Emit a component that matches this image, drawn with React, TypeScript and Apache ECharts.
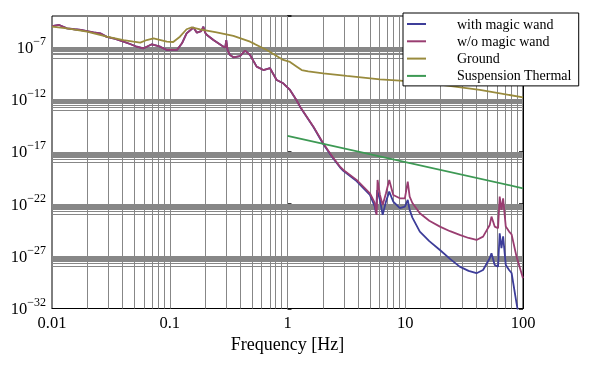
import React, { useEffect, useRef } from "react";
import * as echarts from "echarts";

// Frequencies in Hz, amplitudes as log10 exponents
const woFreq = [0.01, 0.0115, 0.0134, 0.0155, 0.0176, 0.0198, 0.0225, 0.0257, 0.0292, 0.0345, 0.0405, 0.046, 0.0525, 0.0598, 0.0638, 0.0705, 0.083, 0.0944, 0.115, 0.127, 0.139, 0.159, 0.17, 0.185, 0.193, 0.2, 0.207, 0.235, 0.286, 0.296, 0.302, 0.31, 0.325, 0.347, 0.395, 0.436, 0.481, 0.547, 0.624, 0.71, 0.809, 0.92, 1.05, 1.19, 1.28, 1.66, 2.01, 2.4, 2.79, 2.98, 3.86, 5.01, 5.52, 5.71, 5.82, 6.1, 6.43, 6.86, 7.31, 7.91, 9.0, 9.93, 10.5, 10.9, 11.5, 13.3, 16.0, 19.7, 24.0, 29.0, 34.5, 40.3, 45.8, 52.2, 54.0, 57.5, 61.4, 63.4, 65.6, 67.8, 71.4, 76.2, 80.0, 88.1, 100];
const woExp = [-4.96, -4.86, -5.18, -5.27, -5.34, -5.44, -5.56, -5.66, -6.0, -6.2, -6.46, -6.68, -6.94, -7.09, -6.94, -6.71, -6.94, -7.25, -7.25, -6.61, -5.66, -5.1, -5.6, -5.45, -5.02, -5.6, -5.82, -6.3, -6.94, -7.0, -6.3, -7.3, -7.73, -7.95, -7.83, -7.32, -7.73, -8.85, -9.17, -9.0, -10.12, -10.44, -11.08, -12.04, -12.68, -14.59, -16.18, -17.45, -18.42, -18.74, -19.69, -20.97, -21.92, -23.04, -19.69, -21.13, -22.09, -20.97, -19.69, -21.13, -21.45, -21.45, -19.86, -21.29, -21.9, -22.88, -23.6, -24.16, -24.6, -24.96, -25.25, -25.44, -25.12, -24.0, -23.2, -24.16, -24.32, -21.29, -22.56, -21.45, -24.16, -24.64, -24.9, -27.03, -29.1];

const withFreq = [0.01, 0.0115, 0.0134, 0.0155, 0.0176, 0.0198, 0.0225, 0.0257, 0.0292, 0.0345, 0.0405, 0.046, 0.0525, 0.0598, 0.0638, 0.0705, 0.083, 0.0944, 0.115, 0.127, 0.139, 0.159, 0.17, 0.185, 0.193, 0.2, 0.207, 0.235, 0.286, 0.296, 0.302, 0.31, 0.325, 0.347, 0.395, 0.436, 0.481, 0.547, 0.624, 0.71, 0.809, 0.92, 1.05, 1.19, 1.28, 1.66, 2.01, 2.4, 2.79, 2.98, 3.86, 5.01, 5.52, 5.64, 5.78, 6.1, 6.43, 6.86, 7.31, 7.91, 9.0, 9.93, 10.5, 10.9, 11.5, 13.3, 16.0, 19.7, 24.0, 29.0, 34.5, 40.3, 45.8, 52.2, 54.0, 57.5, 61.4, 63.4, 65.6, 67.8, 71.4, 76.2, 80.0, 88.1, 93.0];
const withExp = [-4.96, -4.86, -5.18, -5.27, -5.34, -5.44, -5.56, -5.66, -6.0, -6.2, -6.46, -6.68, -6.94, -7.09, -6.94, -6.71, -6.94, -7.25, -7.25, -6.61, -5.66, -5.1, -5.6, -5.45, -5.02, -5.6, -5.82, -6.3, -6.94, -7.0, -6.3, -7.3, -7.73, -7.95, -7.83, -7.32, -7.73, -8.85, -9.17, -9.0, -10.12, -10.44, -11.08, -12.04, -12.7, -14.62, -16.25, -17.52, -18.48, -18.82, -19.8, -21.13, -22.25, -22.88, -20.65, -21.61, -23.04, -21.77, -20.81, -21.77, -22.4, -22.25, -21.61, -22.56, -23.3, -24.64, -25.55, -26.4, -27.25, -27.99, -28.4, -28.62, -28.31, -27.19, -26.71, -27.83, -27.99, -24.8, -26.23, -25.1, -27.83, -28.31, -28.6, -31.49, -33.0];

const groundFreq = [0.01, 0.0134, 0.0198, 0.0292, 0.0405, 0.0492, 0.0562, 0.0638, 0.0728, 0.0944, 0.107, 0.122, 0.139, 0.154, 0.181, 0.25, 0.347, 0.481, 0.667, 0.92, 1.05, 1.2, 1.32, 1.5, 2.01, 3.18, 6.1, 9.0, 16.2, 43.0, 100];
const groundExp = [-5.02, -5.18, -5.5, -5.98, -6.3, -6.46, -6.55, -6.3, -6.14, -6.46, -6.49, -5.98, -5.27, -5.08, -5.27, -5.56, -5.91, -6.46, -7.25, -8.21, -8.4, -8.85, -9.17, -9.3, -9.49, -9.74, -10.06, -10.19, -10.44, -11.08, -11.78];

const thermalFreq = [1, 100];
const thermalExp = [-15.48, -20.49];

const seriesNames = ["with magic wand", "w/o magic wand", "Ground", "Suspension Thermal"];
const seriesColors = ["#3D3D99", "#993D71", "#998B3D", "#3D9954"];

const xTickLabels: Record<string, string> = { "-2": "0.01", "-1": "0.1", "0": "1", "1": "10", "2": "100" };
const yMajorExps = [-32, -27, -22, -17, -12, -7];
const yBandExps = [-27, -22, -17, -12, -7];
const xDecades = [-2, -1, 0, 1];

const FONT = "Liberation Serif";
const GRID = "#878787";

function toPairs(freq: number[], exp: number[]) {
  return freq.map((f, i) => [Math.log10(f), exp[i]]);
}

export default function App() {
  const ref = useRef<HTMLDivElement>(null);
  useEffect(() => {
    if (!ref.current) return;
    const chart = echarts.init(ref.current, null, { renderer: "svg" });

    const gridLines: any[] = [];
    xDecades.forEach((d) => {
      for (let k = 1; k <= 9; k++) {
        const x = d + Math.log10(k);
        if (x <= -2 + 1e-9) continue;
        gridLines.push({ xAxis: x });
      }
    });
    yBandExps.forEach((n) => {
      for (let k = 1; k <= 10; k++) {
        gridLines.push({ yAxis: n - 1 + Math.log10(k) });
      }
    });

    const datasets = [
      toPairs(withFreq, withExp),
      toPairs(woFreq, woExp),
      toPairs(groundFreq, groundExp),
      toPairs(thermalFreq, thermalExp),
    ];

    const option: any = {
      animation: false,
      grid: { left: 52, right: 66, top: 16, bottom: 57.5, show: true, borderColor: "#000", borderWidth: 1, containLabel: false },
      xAxis: {
        type: "value",
        min: -2,
        max: 2,
        interval: 1,
        axisLine: { show: true, lineStyle: { color: "#000", width: 1 } },
        axisTick: { show: false },
        splitLine: { show: false },
        axisLabel: {
          margin: 5,
          fontFamily: FONT,
          fontSize: 16.5,
          color: "#000",
          formatter: (v: number) => xTickLabels[String(Math.round(v))] ?? "",
        },
        name: "Frequency [Hz]",
        nameLocation: "middle",
        nameGap: 24,
        nameTextStyle: { fontFamily: FONT, fontSize: 18, color: "#000" },
      },
      yAxis: [
        {
          type: "value",
          min: -32,
          max: -4,
          interval: 5,
          axisLine: { show: true, lineStyle: { color: "#000", width: 1 } },
          axisTick: { show: true, inside: true, length: 4, lineStyle: { color: "#000", width: 1.5 } },
          splitLine: { show: false },
          axisLabel: {
            margin: 6,
            color: "#000",
            formatter: (v: number) => (yMajorExps.includes(v) ? `{b|10}{s|\u2212${-v}}` : ""),
            rich: {
              b: { fontFamily: FONT, fontSize: 16.5, color: "#000", padding: [4, 0, 4, 0] },
              s: { fontFamily: FONT, fontSize: 12, color: "#000", verticalAlign: "top" },
            },
          },
        },
        {
          type: "value",
          position: "right",
          min: -32,
          max: -4,
          interval: 5,
          axisLine: { show: true, lineStyle: { color: "#000", width: 1 } },
          axisTick: { show: true, inside: true, length: 4, lineStyle: { color: "#000", width: 1.5 } },
          splitLine: { show: false },
          axisLabel: { show: false },
        },
      ],
      legend: {
        orient: "vertical",
        left: 403,
        top: 13,
        backgroundColor: "#fff",
        borderColor: "#000",
        borderWidth: 1,
        borderRadius: 0,
        padding: [4, 7, 3, 4],
        icon: "rect",
        itemWidth: 19,
        itemHeight: 2,
        itemGap: 3.3,
        data: seriesNames,
        textStyle: { fontFamily: FONT, fontSize: 14, lineHeight: 14, color: "#000", padding: [0, 0, 0, 26] },
      },
      series: [
        {
          name: "gridlines",
          type: "line",
          z: 1,
          silent: true,
          symbol: "none",
          data: [[-3, -100]],
          markLine: {
            z: 1,
            silent: true,
            symbol: ["none", "none"],
            label: { show: false },
            lineStyle: { color: GRID, width: 1, type: "solid" },
            emphasis: { disabled: true },
            data: gridLines,
          },
        },
        ...seriesNames.map((name, i) => ({
          name,
          type: "line",
          z: 3,
          symbol: "none",
          smooth: false,
          clip: true,
          color: seriesColors[i],
          lineStyle: { color: seriesColors[i], width: 1.8 },
          data: datasets[i],
        })),
      ],
    };
    chart.setOption(option);
    return () => chart.dispose();
  }, []);
  return <div ref={ref} style={{ position: "fixed", left: 0, top: 0, width: 589, height: 366 }} />;
}
